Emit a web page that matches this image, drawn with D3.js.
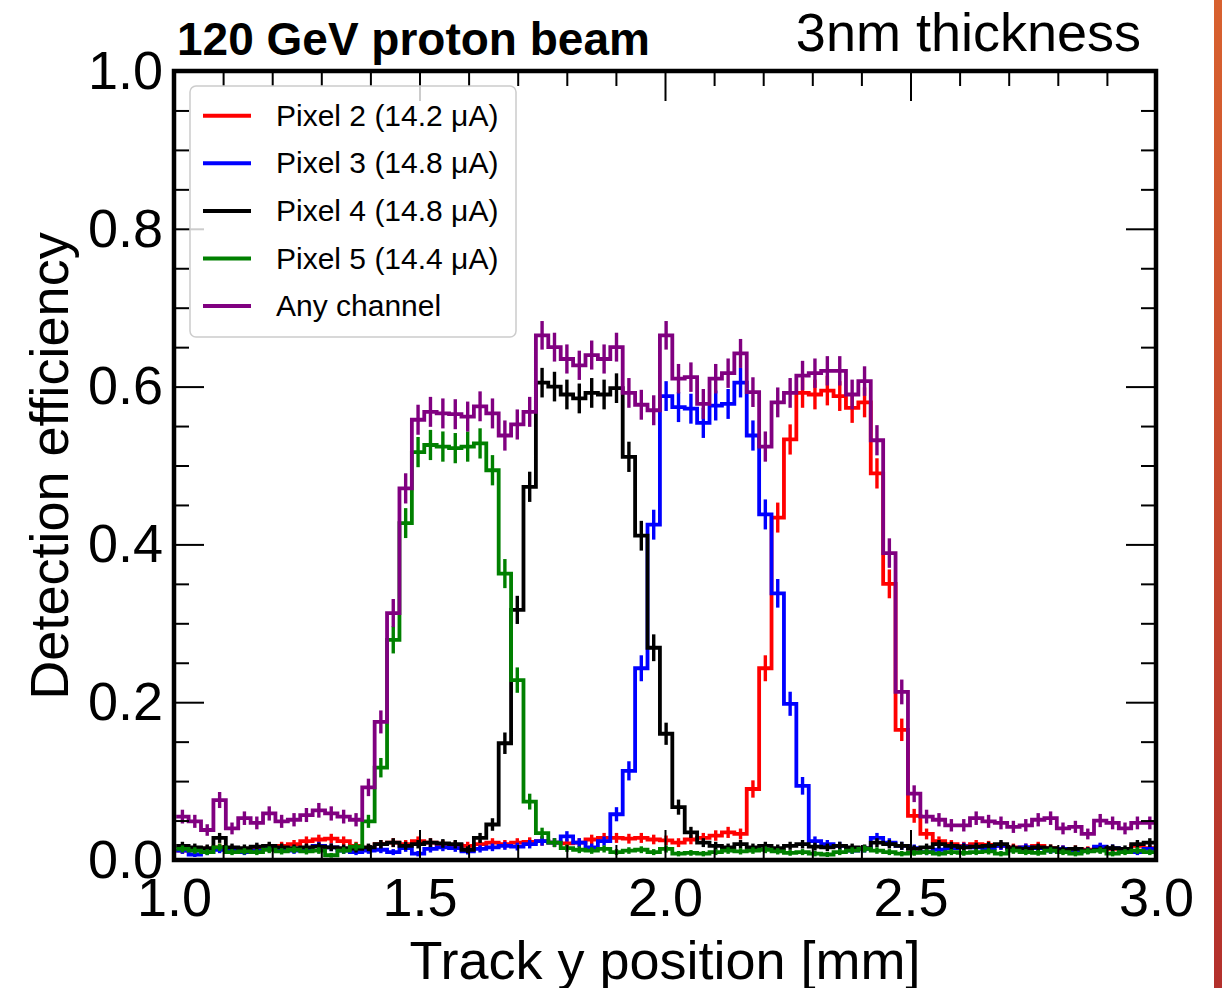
<!DOCTYPE html>
<html><head><meta charset="utf-8">
<script src="https://cdn.jsdelivr.net/npm/d3@7"></script>
<style>
html,body{margin:0;padding:0;background:#fff;}
svg{display:block;}
text{font-family:"Liberation Sans",Arial,Helvetica,sans-serif;}
</style></head><body>
<svg id="chart" width="1222" height="988"></svg>
<script>
// ---------- data ----------
const binLow = 1.0045;    // first bin edge [mm]
const binWidth = 0.02526; // bin width [mm]
const tracksPerBin = 680; // approx. tracks per bin (for binomial error bars)

const pixel2 = [0.012,0.013,0.014,0.016,0.014,0.013,0.015,0.016,0.018,0.020,
 0.024,0.026,0.027,0.024,0.018,0.015,0.020,0.022,0.020,0.024,
 0.022,0.020,0.019,0.018,0.020,0.022,0.020,0.022,0.023,0.024,
 0.022,0.021,0.022,0.026,0.028,0.028,0.027,0.028,0.026,0.025,
 0.022,0.026,0.028,0.031,0.035,0.033,0.090,0.243,0.434,0.533,
 0.592,0.590,0.595,0.588,0.573,0.580,0.490,0.350,0.165,0.056,
 0.033,0.024,0.020,0.018,0.020,0.019,0.018,0.016,0.016,0.018,
 0.015,0.014,0.014,0.013,0.016,0.014,0.012,0.018,0.015];

const pixel3 = [0.012,0.007,0.010,0.013,0.012,0.010,0.012,0.015,0.013,0.012,
 0.014,0.018,0.016,0.012,0.010,0.012,0.013,0.010,0.015,0.008,
 0.014,0.016,0.015,0.011,0.014,0.016,0.018,0.017,0.020,0.024,
 0.022,0.030,0.022,0.016,0.024,0.058,0.113,0.243,0.425,0.588,
 0.574,0.572,0.554,0.576,0.578,0.605,0.538,0.438,0.338,0.198,
 0.094,0.024,0.020,0.018,0.012,0.014,0.028,0.022,0.018,0.015,
 0.010,0.013,0.015,0.017,0.016,0.015,0.018,0.014,0.016,0.015,
 0.012,0.014,0.010,0.012,0.017,0.015,0.012,0.010,0.014];

const pixel4 = [0.018,0.016,0.015,0.028,0.016,0.015,0.017,0.018,0.016,0.015,
 0.016,0.017,0.016,0.015,0.014,0.016,0.020,0.022,0.018,0.020,
 0.022,0.021,0.020,0.013,0.028,0.045,0.148,0.317,0.473,0.605,
 0.600,0.590,0.585,0.592,0.590,0.598,0.511,0.411,0.269,0.160,
 0.067,0.035,0.022,0.018,0.016,0.020,0.016,0.018,0.015,0.018,
 0.020,0.017,0.016,0.018,0.016,0.015,0.022,0.020,0.018,0.014,
 0.016,0.020,0.018,0.016,0.017,0.018,0.020,0.015,0.014,0.016,
 0.015,0.013,0.014,0.012,0.013,0.015,0.014,0.020,0.022];

const pixel5 = [0.014,0.012,0.010,0.016,0.010,0.011,0.010,0.013,0.011,0.013,
 0.011,0.012,0.006,0.012,0.017,0.049,0.117,0.279,0.427,0.517,
 0.526,0.524,0.522,0.524,0.528,0.494,0.363,0.228,0.074,0.034,
 0.022,0.015,0.013,0.012,0.014,0.010,0.012,0.013,0.010,0.014,
 0.008,0.009,0.008,0.010,0.012,0.011,0.012,0.013,0.011,0.009,
 0.010,0.008,0.007,0.010,0.012,0.014,0.012,0.010,0.008,0.009,
 0.010,0.008,0.010,0.009,0.010,0.011,0.008,0.012,0.010,0.009,
 0.012,0.010,0.008,0.011,0.012,0.008,0.010,0.012,0.010];

const anyChannel = [0.055,0.049,0.038,0.076,0.040,0.053,0.047,0.059,0.049,0.051,
 0.057,0.063,0.059,0.055,0.051,0.092,0.175,0.313,0.471,0.558,
 0.568,0.566,0.565,0.562,0.575,0.566,0.538,0.552,0.568,0.665,
 0.650,0.635,0.627,0.640,0.635,0.650,0.592,0.577,0.570,0.665,
 0.610,0.612,0.578,0.610,0.617,0.642,0.593,0.524,0.580,0.592,
 0.614,0.617,0.620,0.620,0.590,0.607,0.532,0.389,0.213,0.084,
 0.055,0.051,0.044,0.044,0.053,0.049,0.047,0.042,0.044,0.051,
 0.053,0.040,0.042,0.033,0.050,0.047,0.040,0.047,0.047];

const seriesLabels = ["Pixel 2 (14.2 \u03bcA)", "Pixel 3 (14.8 \u03bcA)", "Pixel 4 (14.8 \u03bcA)", "Pixel 5 (14.4 \u03bcA)", "Any channel"];
const seriesColors = ["#ff0000", "#0000ff", "#000000", "#008000", "#800080"];
const seriesValues = [pixel2, pixel3, pixel4, pixel5, anyChannel];

const xMajorTicks = [1.0, 1.5, 2.0, 2.5, 3.0];
const xMinorTicks = [1.1,1.2,1.3,1.4,1.6,1.7,1.8,1.9,2.1,2.2,2.3,2.4,2.6,2.7,2.8,2.9];
const yMajorTicks = [0.0, 0.2, 0.4, 0.6, 0.8, 1.0];
const yMinorTicks = [0.05,0.1,0.15,0.25,0.3,0.35,0.45,0.5,0.55,0.65,0.7,0.75,0.85,0.9,0.95];

const titleLeft = "120 GeV proton beam";
const titleRight = "3nm thickness";
const xLabel = "Track y position [mm]";
const yLabel = "Detection efficiency";

// ---------- drawing ----------
const svg = d3.select("#chart");
const x = d3.scaleLinear().domain([1, 3]).range([174, 1156]);
const y = d3.scaleLinear().domain([0, 1]).range([860, 71]);

const defs = svg.append("defs");
const grad = defs.append("linearGradient").attr("id", "bar").attr("x1", 0).attr("y1", 0).attr("x2", 0).attr("y2", 1);
grad.append("stop").attr("offset", "0%").attr("stop-color", "#d8612f");
grad.append("stop").attr("offset", "100%").attr("stop-color", "#b3302c");
defs.append("clipPath").attr("id", "plotclip").append("rect")
  .attr("x", x(1)).attr("y", y(1)).attr("width", x(3) - x(1)).attr("height", y(0) - y(1));

svg.append("rect").attr("x", 1214).attr("y", 0).attr("width", 8).attr("height", 988).attr("fill", "url(#bar)");

const plot = svg.append("g").attr("clip-path", "url(#plotclip)");
const step = d3.line().x(d => x(d[0])).y(d => y(d[1])).curve(d3.curveStepAfter);

seriesValues.forEach((vals, s) => {
  const pts = vals.map((v, i) => [binLow + i * binWidth, v]);
  pts.push([binLow + vals.length * binWidth, vals[vals.length - 1]]);
  plot.append("path").attr("d", step(pts)).attr("fill", "none")
    .attr("stroke", seriesColors[s]).attr("stroke-width", 3.8).attr("stroke-linejoin", "miter");
  plot.append("g").selectAll("line").data(vals).join("line")
    .attr("x1", (v, i) => x(binLow + (i + 0.5) * binWidth))
    .attr("x2", (v, i) => x(binLow + (i + 0.5) * binWidth))
    .attr("y1", v => y(v - Math.sqrt(v * (1 - v) / tracksPerBin)))
    .attr("y2", v => y(v + Math.sqrt(v * (1 - v) / tracksPerBin)))
    .attr("stroke", seriesColors[s]).attr("stroke-width", 3.4);
});

function styleAxis(g, fs) {
  g.select(".domain").remove();
  g.selectAll(".tick line").attr("stroke", "#000").attr("stroke-width", 2);
  g.selectAll("text").attr("font-size", fs).attr("fill", "#000")
    .attr("font-family", "'Liberation Sans', Arial, Helvetica, sans-serif");
}
const fmt = d3.format(".1f");
// left
svg.append("g").attr("transform", `translate(${x(1)},0)`)
  .call(d3.axisLeft(y).tickValues(yMajorTicks).tickSize(-30).tickPadding(11).tickFormat(fmt)).call(g => styleAxis(g, 54));
svg.append("g").attr("transform", `translate(${x(1)},0)`)
  .call(d3.axisLeft(y).tickValues(yMinorTicks).tickSize(-15).tickFormat("")).call(g => styleAxis(g, 54));
// right
svg.append("g").attr("transform", `translate(${x(3)},0)`)
  .call(d3.axisRight(y).tickValues(yMajorTicks).tickSize(-30).tickFormat("")).call(g => styleAxis(g, 54));
svg.append("g").attr("transform", `translate(${x(3)},0)`)
  .call(d3.axisRight(y).tickValues(yMinorTicks).tickSize(-15).tickFormat("")).call(g => styleAxis(g, 54));
// bottom
svg.append("g").attr("transform", `translate(0,${y(0)})`)
  .call(d3.axisBottom(x).tickValues(xMajorTicks).tickSize(-30).tickPadding(18).tickFormat(fmt)).call(g => styleAxis(g, 54));
svg.append("g").attr("transform", `translate(0,${y(0)})`)
  .call(d3.axisBottom(x).tickValues(xMinorTicks).tickSize(-15).tickFormat("")).call(g => styleAxis(g, 54));
// top
svg.append("g").attr("transform", `translate(0,${y(1)})`)
  .call(d3.axisTop(x).tickValues(xMajorTicks).tickSize(-30).tickFormat("")).call(g => styleAxis(g, 54));
svg.append("g").attr("transform", `translate(0,${y(1)})`)
  .call(d3.axisTop(x).tickValues(xMinorTicks).tickSize(-15).tickFormat("")).call(g => styleAxis(g, 54));

// legend
const lg = svg.append("g");
lg.append("rect").attr("x", 190).attr("y", 86).attr("width", 326).attr("height", 251).attr("rx", 6)
  .attr("fill", "#fff").attr("fill-opacity", 0.8).attr("stroke", "#cccccc").attr("stroke-width", 1.5);
seriesLabels.forEach((lab, i) => {
  const cy = 115.7 + 47.6 * i;
  lg.append("line").attr("x1", 203).attr("x2", 251).attr("y1", cy).attr("y2", cy)
    .attr("stroke", seriesColors[i]).attr("stroke-width", 4);
  lg.append("text").attr("x", 276).attr("y", cy + 10).attr("font-size", 30).attr("fill", "#000").text(lab);
});

// frame
svg.append("rect").attr("x", x(1)).attr("y", y(1)).attr("width", x(3) - x(1)).attr("height", y(0) - y(1))
  .attr("fill", "none").attr("stroke", "#000").attr("stroke-width", 4.5);

// titles / labels
svg.append("text").attr("x", 177).attr("y", 55).attr("font-size", 46).attr("font-weight", "bold").text(titleLeft);
svg.append("text").attr("x", 1141).attr("y", 51).attr("font-size", 54).attr("text-anchor", "end").text(titleRight);
svg.append("text").attr("x", x(2)).attr("y", 979).attr("font-size", 54).attr("text-anchor", "middle").text(xLabel);
svg.append("text").attr("transform", "translate(68,466) rotate(-90)").attr("font-size", 54)
  .attr("text-anchor", "middle").text(yLabel);
</script></body></html>
